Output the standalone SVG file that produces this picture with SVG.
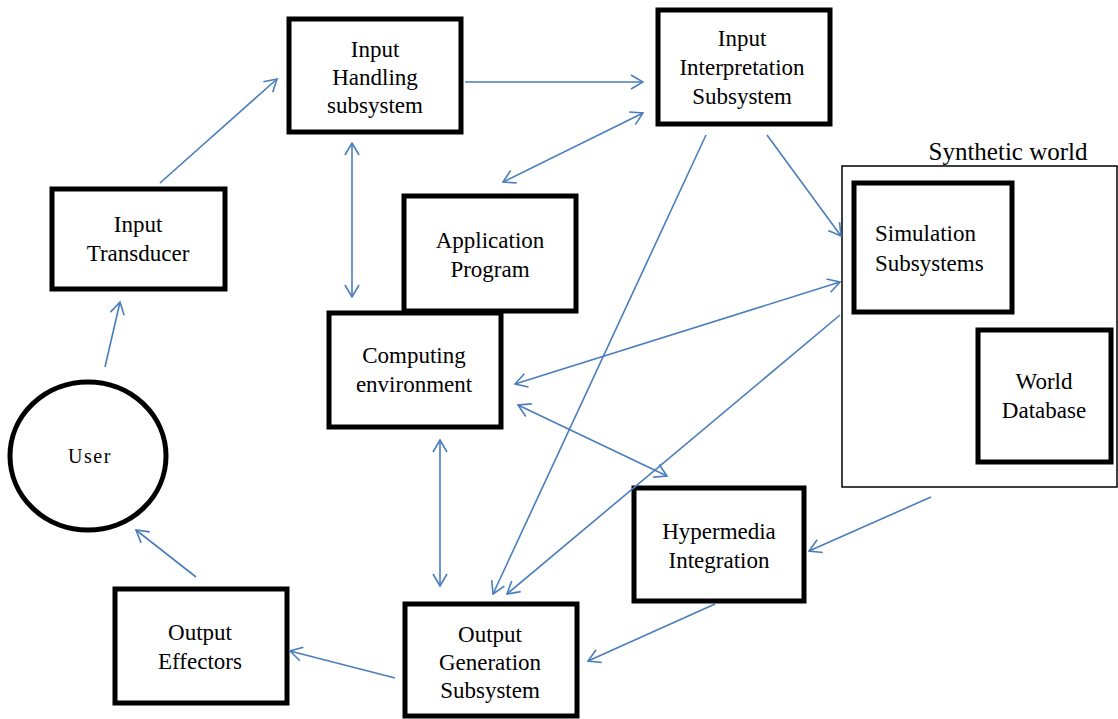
<svg xmlns="http://www.w3.org/2000/svg" width="1118" height="719" viewBox="0 0 1118 719">
  <style>
    .box { fill: #ffffff; stroke: #000000; stroke-width: 5; }
    .world { fill: #ffffff; stroke: #000000; stroke-width: 1.5; }
    .lbl { font-family: "Liberation Serif", "Times New Roman", serif; font-size: 23px; fill: #000000; text-anchor: middle; }
    .lbl-left { text-anchor: start; }
    .conn line { stroke: #4A7EBB; stroke-width: 1.6; fill: none; }
    .one { marker-end: url(#head); }
    .two { marker-end: url(#head); marker-start: url(#head); }
  </style>
  <defs>
    <marker id="head" viewBox="0 0 14 16" refX="13" refY="8" markerWidth="14" markerHeight="16" markerUnits="userSpaceOnUse" orient="auto-start-reverse">
      <path d="M1,1 L13,8 L1,15" fill="none" stroke="#4A7EBB" stroke-width="1.6"/>
    </marker>
  </defs>

  <rect width="1118" height="719" fill="#ffffff"/>

  <!-- synthetic world container -->
  <g id="synthetic-world">
    <rect class="world" x="842" y="166" width="275" height="321"/>
    <text class="lbl" x="1008" y="160" style="font-size:25px">Synthetic world</text>
  </g>

  <g id="input-handling">
    <rect class="box" x="289" y="19" width="172" height="113"/>
    <text class="lbl" x="375" y="57">Input</text>
    <text class="lbl" x="375" y="85">Handling</text>
    <text class="lbl" x="375" y="113">subsystem</text>
  </g>

  <g id="input-interpretation">
    <rect class="box" x="658" y="10" width="172" height="114"/>
    <text class="lbl" x="742" y="46">Input</text>
    <text class="lbl" x="742" y="75">Interpretation</text>
    <text class="lbl" x="742" y="104">Subsystem</text>
  </g>

  <g id="input-transducer">
    <rect class="box" x="52" y="189" width="173" height="100"/>
    <text class="lbl" x="138" y="232">Input</text>
    <text class="lbl" x="138" y="261">Transducer</text>
  </g>

  <g id="application-program">
    <rect class="box" x="404" y="196" width="172" height="115"/>
    <text class="lbl" x="490" y="248">Application</text>
    <text class="lbl" x="490" y="277">Program</text>
  </g>

  <g id="computing-environment">
    <rect class="box" x="329" y="313" width="172" height="114"/>
    <text class="lbl" x="414" y="363">Computing</text>
    <text class="lbl" x="414" y="392">environment</text>
  </g>

  <g id="simulation-subsystems">
    <rect class="box" x="854" y="183" width="158" height="129"/>
    <text class="lbl lbl-left" x="875" y="241">Simulation</text>
    <text class="lbl lbl-left" x="875" y="271">Subsystems</text>
  </g>

  <g id="world-database">
    <rect class="box" x="978" y="330" width="133" height="132"/>
    <text class="lbl" x="1044" y="389">World</text>
    <text class="lbl" x="1044" y="418">Database</text>
  </g>

  <g id="user">
    <ellipse cx="88" cy="456" rx="78" ry="74" fill="#ffffff" stroke="#000000" stroke-width="5"/>
    <text class="lbl" x="90" y="463" style="font-size:20px;letter-spacing:1.5px">User</text>
  </g>

  <g id="hypermedia-integration">
    <rect class="box" x="634" y="488" width="170" height="113"/>
    <text class="lbl" x="719" y="539">Hypermedia</text>
    <text class="lbl" x="719" y="568">Integration</text>
  </g>

  <g id="output-generation">
    <rect class="box" x="405" y="604" width="172" height="112"/>
    <text class="lbl" x="490" y="642">Output</text>
    <text class="lbl" x="490" y="670">Generation</text>
    <text class="lbl" x="490" y="698">Subsystem</text>
  </g>

  <g id="output-effectors">
    <rect class="box" x="115" y="589" width="172" height="114"/>
    <text class="lbl" x="200" y="640">Output</text>
    <text class="lbl" x="200" y="669">Effectors</text>
  </g>

  <!-- connectors -->
  <g id="connectors" class="conn">
    <line class="one" x1="160" y1="183" x2="277" y2="79"/>
    <line class="one" x1="105" y1="367" x2="120" y2="302"/>
    <line class="one" x1="465" y1="82" x2="643" y2="82"/>
    <line class="two" x1="352" y1="143" x2="352" y2="297"/>
    <line class="two" x1="643" y1="113" x2="503" y2="182"/>
    <line class="one" x1="767" y1="135" x2="841" y2="236"/>
    <line class="one" x1="706" y1="135" x2="493" y2="594"/>
    <line class="two" x1="515" y1="384" x2="840" y2="282"/>
    <line class="one" x1="840" y1="315" x2="507" y2="594"/>
    <line class="two" x1="518" y1="405" x2="667" y2="476"/>
    <line class="one" x1="931" y1="497" x2="809" y2="551"/>
    <line class="one" x1="715" y1="604" x2="588" y2="661"/>
    <line class="two" x1="440" y1="440" x2="440" y2="586"/>
    <line class="one" x1="395" y1="678" x2="290" y2="651"/>
    <line class="one" x1="196" y1="577" x2="136" y2="530"/>
  </g>
</svg>
